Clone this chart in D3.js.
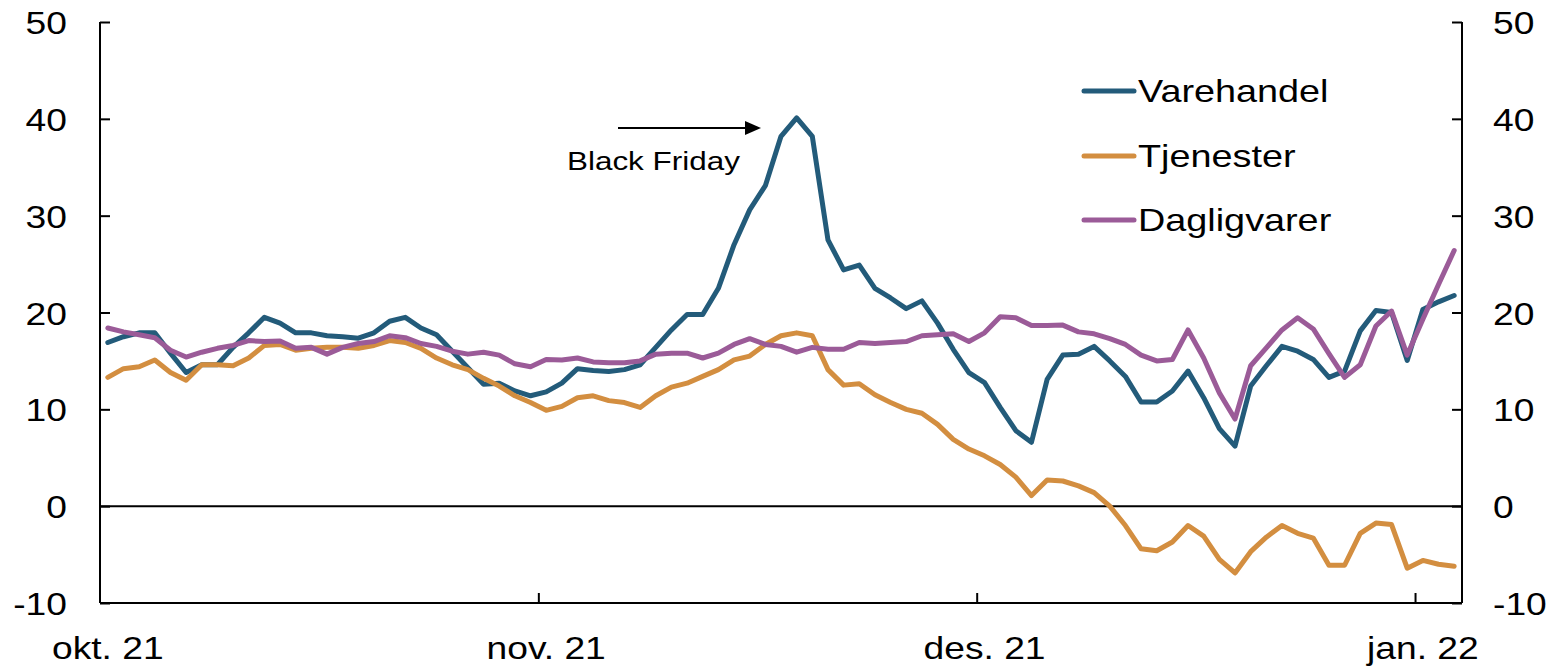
<!DOCTYPE html>
<html><head><meta charset="utf-8">
<script src="https://cdn.jsdelivr.net/npm/d3@7"></script>
<style>
html,body{margin:0;padding:0;background:#fff;}
svg{display:block;}
text{font-family:"Liberation Sans",Arial,sans-serif;fill:#000;}
</style></head>
<body>
<svg id="chart" width="1557" height="668"></svg>
<script>
// ---- data ----
const tickLabels = ["okt. 21", "nov. 21", "des. 21", "jan. 22"];
const tickIndex = [0, 28, 56, 84];
const seriesNames = ["Varehandel", "Tjenester", "Dagligvarer"];
const seriesColors = ["#235b7a", "#d38e40", "#9b5b98"];
const yTicks = [-10, 0, 10, 20, 30, 40, 50];

const varehandel = [16.9,17.5,17.9,17.9,15.8,13.8,14.6,14.6,16.4,17.9,19.5,18.9,17.9,17.9,17.6,17.5,17.35,17.9,19.1,19.5,18.4,17.7,16.0,14.3,12.6,12.7,11.9,11.4,11.8,12.7,
14.2,14.0,13.9,14.1,14.6,16.4,18.2,19.8,19.8,22.5,27.0,30.6,33.1,38.2,40.1,38.2,27.5,24.4,24.9,22.5,21.5,20.4,21.2,18.9,16.2,13.8,12.75,10.2,7.8,6.6,
13.1,15.6,15.7,16.5,15.0,13.4,10.75,10.75,11.9,13.95,11.2,8.0,6.2,12.4,14.5,16.5,16.0,15.15,13.3,13.95,18.1,20.2,20.0,15.05,20.3,21.1,21.75];
const tjenester = [13.3,14.2,14.4,15.1,13.8,13.0,14.6,14.6,14.5,15.3,16.6,16.7,16.1,16.3,16.4,16.4,16.3,16.6,17.1,16.9,16.3,15.3,14.6,14.1,13.2,12.4,11.4,10.7,9.9,10.3,
11.2,11.4,10.9,10.7,10.2,11.4,12.3,12.7,13.4,14.1,15.1,15.5,16.7,17.6,17.9,17.6,14.1,12.5,12.65,11.5,10.7,10.0,9.6,8.45,6.9,5.9,5.2,4.3,3.0,1.1,
2.7,2.6,2.1,1.4,0.0,-2.0,-4.4,-4.6,-3.7,-2.0,-3.1,-5.5,-6.9,-4.7,-3.2,-2.0,-2.8,-3.3,-6.1,-6.1,-2.8,-1.75,-1.9,-6.4,-5.6,-6.0,-6.2];
const dagligvarer = [18.4,18.0,17.7,17.4,16.1,15.4,15.9,16.3,16.6,17.1,17.0,17.05,16.3,16.4,15.7,16.4,16.8,17.0,17.6,17.4,16.8,16.5,16.0,15.7,15.9,15.6,14.7,14.4,15.15,15.1,
15.3,14.9,14.8,14.8,15.0,15.7,15.8,15.8,15.3,15.8,16.7,17.3,16.7,16.5,15.9,16.4,16.2,16.2,16.9,16.8,16.9,17.0,17.6,17.7,17.8,17.0,17.9,19.55,19.45,18.65,
18.65,18.7,18.0,17.8,17.3,16.7,15.6,15.0,15.15,18.2,15.3,11.7,9.0,14.5,16.35,18.2,19.45,18.3,15.75,13.3,14.6,18.6,20.15,15.6,19.3,22.9,26.4];

const series = [varehandel, tjenester, dagligvarer];

// ---- layout ----
const L = 100, R = 1462, T = 22, B = 603;
const SX = 1.2; // horizontal text stretch of the original
const nCat = 87;

const svg = d3.select("#chart");
const x = d3.scaleLinear().domain([0, nCat]).range([L, R]);
const y = d3.scaleLinear().domain([-10, 50]).range([B, T]);

function stretchedText(g, xx, yy, str, size, anchor) {
  const t = g.append("text")
    .attr("transform", `translate(${xx},${yy}) scale(${SX},1)`)
    .attr("font-size", size)
    .attr("text-anchor", anchor || "start")
    .text(str);
  return t;
}

// zero line
svg.append("line").attr("x1", L).attr("x2", R).attr("y1", y(0)).attr("y2", y(0))
  .attr("stroke", "#000").attr("stroke-width", 2);

// lines
const line = d3.line().x((d, i) => x(i + 0.5)).y(d => y(d));
series.forEach((s, k) => {
  svg.append("path").datum(s).attr("d", line)
    .attr("fill", "none").attr("stroke", seriesColors[k]).attr("stroke-width", 5)
    .attr("stroke-linejoin", "round").attr("stroke-linecap", "round");
});

// axes
const leftAxis = d3.axisLeft(y).tickValues(yTicks).tickSize(-10).tickFormat("");
const rightAxis = d3.axisRight(y).tickValues(yTicks).tickSize(-10).tickFormat("");
const bottomAxis = d3.axisBottom(x).tickValues(tickIndex.slice(1)).tickSize(-10).tickFormat("");
[["l", leftAxis, `translate(${L},0)`], ["r", rightAxis, `translate(${R},0)`], ["b", bottomAxis, `translate(0,${B})`]]
  .forEach(([n, ax, tr]) => {
    const g = svg.append("g").attr("transform", tr).call(ax);
    g.select(".domain").attr("stroke", "#000").attr("stroke-width", 2)
      .attr("d", n === "b" ? `M${L},0H${R}` : `M0,${T}V${B}`);
    g.selectAll(".tick line").attr("stroke", "#000").attr("stroke-width", 2);
  });

// y labels
const gl = svg.append("g");
yTicks.forEach(v => {
  stretchedText(gl, 67, y(v) + 12, String(v), 31, "end");
  stretchedText(gl, 1493, y(v) + 12, String(v), 31, "start");
});

// x labels
tickLabels.forEach((lab, i) => {
  const cx = x(tickIndex[i] + 0.5);
  const t = stretchedText(gl, cx, 659, lab, 31, "middle");
  const w = t.node().getComputedTextLength() * SX;
  if (cx - w / 2 < 0) t.attr("transform", `translate(${w / 2},659) scale(${SX},1)`);
});

// legend
const legY = [91, 156, 220];
seriesNames.forEach((n, k) => {
  svg.append("line").attr("x1", 1084).attr("x2", 1134).attr("y1", legY[k]).attr("y2", legY[k])
    .attr("stroke", seriesColors[k]).attr("stroke-width", 5).attr("stroke-linecap", "round");
  stretchedText(svg, 1138, legY[k] + 11, n, 31.5, "start");
});

// annotation
svg.append("line").attr("x1", 618).attr("x2", 745).attr("y1", 128).attr("y2", 128)
  .attr("stroke", "#000").attr("stroke-width", 2);
svg.append("path").attr("d", "M745,121L761,128L745,135Z").attr("fill", "#000");
stretchedText(svg, 567, 170, "Black Friday", 26.2, "start");
</script>
</body></html>
